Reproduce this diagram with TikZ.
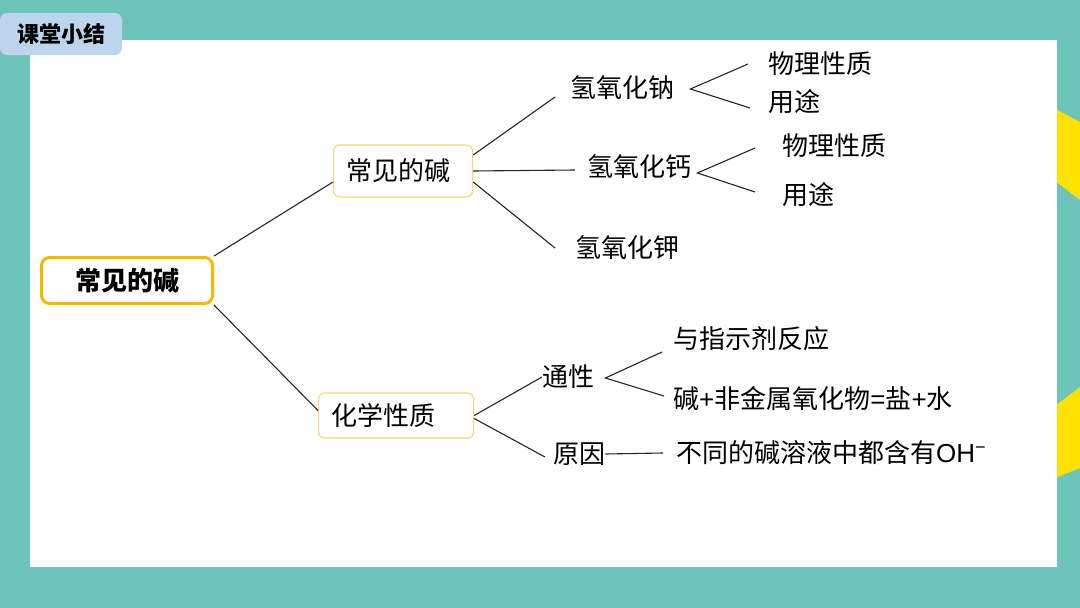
\documentclass[tikz,border=0pt]{standalone}
\usepackage{fontspec}
\setmainfont{Noto Sans CJK SC}
\newfontfamily\latinfont{Liberation Sans}
\usepackage{xcolor}
\usepackage{tikz}
\definecolor{bgteal}{HTML}{6DC4B9}
\definecolor{markyellow}{HTML}{FFE100}
\definecolor{tagblue}{HTML}{BDD5EC}
\definecolor{rootgold}{HTML}{F6B800}
\definecolor{boxgold}{HTML}{F5D77C}
\newcommand{\lat}[1]{{\latinfont #1}}

\begin{document}
\begin{tikzpicture}[x=1pt, y=-1pt,
  txt/.style={inner sep=0pt, anchor=west, font=\fontsize{26}{30}\selectfont},
  box/.style={draw=boxgold, line width=1.2pt, rounded corners=6pt, anchor=west,
              inner xsep=12.5pt, inner ysep=0pt, align=left,
              font=\fontsize{26}{30}\selectfont},
  rootbox/.style={draw=rootgold, line width=3pt, rounded corners=8pt,
              minimum width=171pt, minimum height=46pt,
              font=\fontsize{26}{30}\selectfont\bfseries},
  tag/.style={fill=tagblue, rounded corners=7pt, minimum width=122pt,
              minimum height=42pt, font=\fontsize{22}{26}\selectfont\bfseries},
  ln/.style={black!85, line width=1.1pt}]
\fill[bgteal] (0,0) rectangle (1080,608);
\fill[markyellow] (1050,106) -- (1080,122) -- (1080,200) -- (1050,177) -- cycle;
\fill[markyellow] (1050,410) -- (1080,387) -- (1080,468) -- (1050,480) -- cycle;
\fill[white] (30,40) rectangle (1057,567);
\node[tag] (tag) at (61,34) {课堂小结};
\node[rootbox] (root) at (127,280.5) {常见的碱};
\node[box, text width=114pt, minimum height=52pt] (base) at (333,171) {常见的碱};
\node[box, text width=130pt, minimum height=45pt] (chem) at (318,415.5) {化学性质};
\node[txt] (naoh) at (570,88) {氢氧化钠};
\node[txt] (caoh) at (587,167) {氢氧化钙};
\node[txt] (koh) at (575,248) {氢氧化钾};
\node[txt] (phyA) at (768,64) {物理性质};
\node[txt] (useA) at (768,102) {用途};
\node[txt] (phyB) at (782,146) {物理性质};
\node[txt] (useB) at (782,195) {用途};
\node[txt] (common) at (542,377) {通性};
\node[txt] (reason) at (553,454) {原因};
\node[txt] (ind) at (673,339) {与指示剂反应};
\node[txt] (co2) at (673,399) {碱\lat{+}非金属氧化物\lat{=}盐\lat{+}水};
\node[txt] (ohion) at (676,453) {不同的碱溶液中都含有\lat{OH\textsuperscript{−}}};
\draw[ln] (root.north east) -- ([yshift=-11pt]base.west);
\draw[ln] (root.south east) -- ([yshift=5pt]chem.west);
\draw[ln] ([yshift=16pt]base.east) -- ([xshift=-15pt,yshift=-9pt]naoh.west);
\draw[ln] (base.east) -- ([xshift=-12pt,yshift=-3pt]caoh.west);
\draw[ln] ([yshift=-11pt]base.east) -- ([xshift=-20pt]koh.west);
\draw[ln] ([xshift=-20pt]phyA.west) -- ([xshift=16pt,yshift=-1pt]naoh.east)
  -- ([xshift=-18pt,yshift=-6pt]useA.west);
\draw[ln] ([xshift=-27pt,yshift=-2pt]phyB.west) -- ([xshift=6pt,yshift=-6pt]caoh.east)
  -- ([xshift=-27pt,yshift=3pt]useB.west);
\draw[ln] (chem.east) -- (common.west);
\draw[ln] ([yshift=-3pt]chem.east) -- ([xshift=-8pt,yshift=-3pt]reason.west);
\draw[ln] ([xshift=-11pt,yshift=-13pt]ind.west) -- ([xshift=11pt,yshift=-1pt]common.east)
  -- ([xshift=-9pt,yshift=3pt]co2.west);
\draw[ln] (reason.east) -- ([xshift=-13pt]ohion.west);
\end{tikzpicture}
\end{document}
